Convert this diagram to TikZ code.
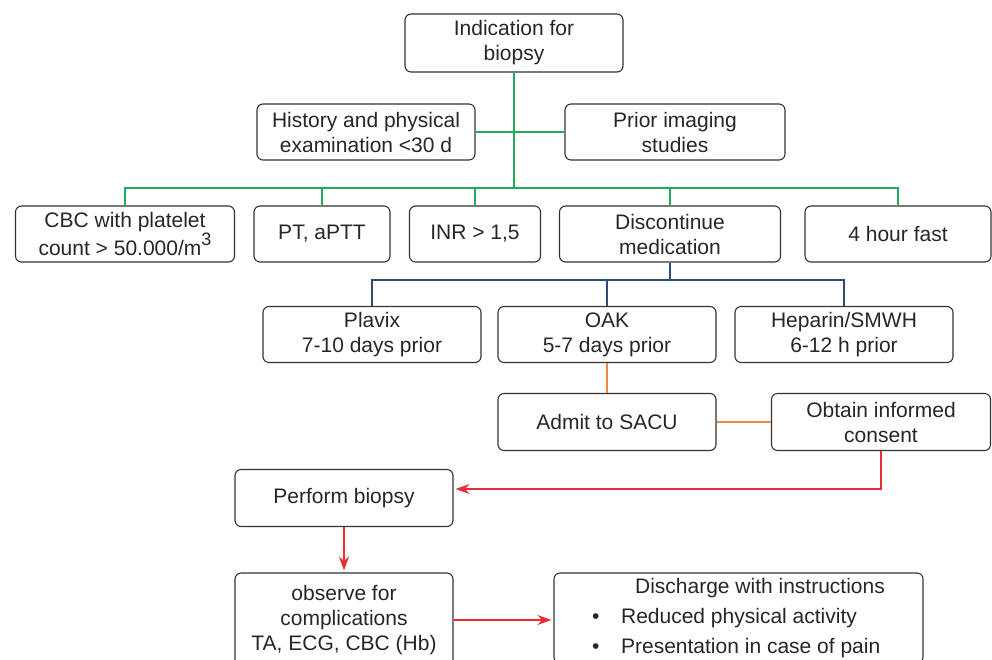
\documentclass[tikz,border=0pt]{standalone}
\usepackage{fontspec}
\setmainfont{Liberation Sans}
\usetikzlibrary{arrows.meta}
\definecolor{linkgreen}{RGB}{35,170,95}
\definecolor{linkblue}{RGB}{45,75,115}
\definecolor{linkorange}{RGB}{240,135,65}
\definecolor{linkred}{RGB}{232,45,55}
\newcommand{\cubed}{\raisebox{.45em}{\fontsize{18}{18}\selectfont 3}}
\newcommand{\bulletitem}{\makebox[29pt][l]{\textbullet}}

\begin{document}
\begin{tikzpicture}[x=1pt,y=-1pt,
    box/.style={draw=black!80,line width=1.1pt,rounded corners=6pt,align=center,
      inner sep=2pt,text=black!85,font=\fontsize{21}{25}\selectfont,
      minimum width=218pt,minimum height=56pt},
    gline/.style={draw=linkgreen,line width=1.6pt},
    bline/.style={draw=linkblue,line width=1.6pt},
    oline/.style={draw=linkorange,line width=1.6pt},
    rline/.style={draw=linkred,line width=1.6pt},
    arr/.style={-{Stealth[length=14pt,width=10pt]},shorten >=2pt}]
  \useasboundingbox (0,0) rectangle (992,659);
  \clip (0,0) rectangle (992,659);

  % indication and first findings
  \node[box,minimum height=58pt] (ind) at (514,43) {Indication for\\biopsy};
  \node[box] (hist) at (366,132) {History and physical\\examination <30 d};
  \node[box,minimum width=220pt] (prior) at (675,132) {Prior imaging\\studies};

  % lab work and preparation
  \node[box,minimum width=219pt] (cbc) at (125,234) {CBC with platelet\\count > 50.000/m\cubed};
  \node[box,minimum width=136pt] (pt) at (322,234) {PT, aPTT};
  \node[box,minimum width=131pt] (inr) at (475,234) {INR > 1,5};
  \node[box,minimum width=221pt] (disc) at (670,234) {Discontinue\\medication};
  \node[box,minimum width=186pt] (fast) at (898,234) {4 hour fast};

  % medication
  \node[box] (plavix) at (372,334.5) {Plavix\\7-10 days prior};
  \node[box] (oak) at (607,334.5) {OAK\\5-7 days prior};
  \node[box] (hep) at (844,334.5) {Heparin/SMWH\\6-12 h prior};

  \node[box,minimum height=57pt] (admit) at (607,422) {Admit to SACU};
  \node[box,minimum width=219pt,minimum height=57pt] (consent) at (881,422) {Obtain informed\\consent};

  \node[box,minimum height=57pt] (perform) at (344,498) {Perform biopsy};
  \node[box,minimum height=94pt] (observe) at (344,620) {observe for\\complications\\TA, ECG, CBC (Hb)};
  \node[box,minimum width=369pt,minimum height=90pt,align=left] (discharge) at (738.5,618)
    {\hspace*{43pt}Discharge with instructions\\[5pt]
     \bulletitem Reduced physical activity\\[5pt]
     \bulletitem Presentation in case of pain};

  % connectors
  \coordinate (gbus) at (514,188);
  \coordinate (bbus) at (670,280);
  \draw[gline] (ind.south) -- (gbus);
  \draw[gline] (hist) -- (prior);
  \draw[gline] (cbc.north) -- (cbc.north |- gbus) -| (fast.north);
  \foreach \n in {pt,inr,disc}
    \draw[gline] (\n.north) -- (\n.north |- gbus);
  \draw[bline] (disc.south) -- (bbus);
  \draw[bline] (plavix.north) -- (plavix.north |- bbus) -| (hep.north);
  \draw[bline] (oak.north) -- (oak.north |- bbus);
  \draw[oline] (oak.south) -- (admit.north);
  \draw[oline] (admit) -- (consent);
  \draw[rline,arr] (consent.south) |- ([yshift=9pt]perform.east);
  \draw[rline,arr] (perform) -- (observe);
  \draw[rline,arr] (observe.east) -- (observe.east -| discharge.west);
\end{tikzpicture}
\end{document}
